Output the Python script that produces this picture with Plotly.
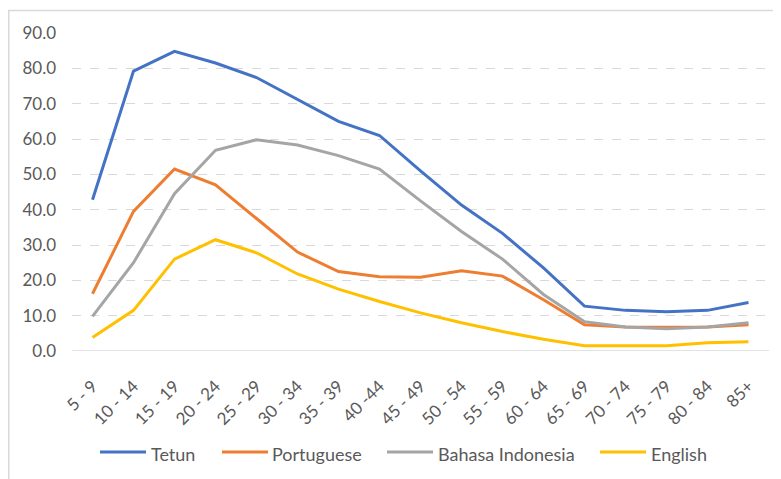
import plotly.graph_objects as go

categories = ["5 - 9", "10 - 14", "15 - 19", "20 - 24", "25 - 29", "30 - 34", "35 - 39", "40 -44",
              "45 - 49", "50 - 54", "55 - 59", "60 - 64", "65 - 69", "70 - 74", "75 - 79", "80 - 84", "85+"]
tetun = [42.8, 79.2, 84.8, 81.5, 77.4, 71.3, 65.0, 61.0, 51.0, 41.3, 33.3, 23.5, 12.7, 11.5, 11.1, 11.5, 13.7]
portuguese = [16.2, 39.5, 51.5, 47.0, 37.5, 28.0, 22.5, 21.0, 20.9, 22.7, 21.2, 14.5, 7.4, 6.8, 6.7, 6.8, 7.4]
bahasa = [9.8, 25.0, 44.5, 56.8, 59.8, 58.3, 55.3, 51.5, 42.5, 33.8, 26.0, 16.0, 8.3, 6.8, 6.3, 6.8, 8.0]
english = [3.8, 11.5, 26.0, 31.5, 27.8, 21.8, 17.5, 14.0, 10.8, 8.0, 5.5, 3.3, 1.5, 1.5, 1.5, 2.3, 2.6]
y_ticks = [0, 10, 20, 30, 40, 50, 60, 70, 80, 90]

series_names = ["Tetun", "Portuguese", "Bahasa Indonesia", "English"]
series_values = [tetun, portuguese, bahasa, english]
series_colors = ["#4472C4", "#ED7D31", "#A5A5A5", "#FFC000"]

# figure geometry (page has an 8px body margin)
W, H = 773, 471
L, R, T, B = 64, 12, 25, 128
PW, PH = W - L - R, H - T - B


def px(fx):
    return (fx - L) / PW


def py(fy):
    return (H - B - fy) / PH


fig = go.Figure()
for name, vals, color in zip(series_names, series_values, series_colors):
    fig.add_trace(go.Scatter(x=categories, y=vals, name=name, mode="lines", showlegend=False,
                             line=dict(color=color, width=3)))

font = "Lato, 'Noto Sans', sans-serif"
text_color = "#595959"

shapes = [
    dict(type="line", xref="paper", yref="y", x0=0, x1=1, y0=0, y1=0,
         line=dict(color="#d9d9d9", width=1.5), layer="below"),
    dict(type="rect", xref="paper", yref="paper", x0=px(0.75), x1=px(W + 20),
         y0=py(H + 20), y1=py(2.5), line=dict(color="#d9d9d9", width=1.5)),
]
annotations = []
legend_line_x = [92, 214, 379, 592]
legend_text_x = [141, 262, 428, 641]
for name, color, lx, tx in zip(series_names, series_colors, legend_line_x, legend_text_x):
    shapes.append(dict(type="line", xref="paper", yref="paper", x0=px(lx), x1=px(lx + 46),
                       y0=py(444), y1=py(444), line=dict(color=color, width=3)))
    annotations.append(dict(text=name, xref="paper", yref="paper", x=px(tx), y=py(446),
                            xanchor="left", yanchor="middle", showarrow=False,
                            font=dict(family=font, size=18, color=text_color)))

fig.update_layout(
    width=W, height=H,
    margin=dict(l=L, r=R, t=T, b=B, autoexpand=False),
    paper_bgcolor="white", plot_bgcolor="white",
    font=dict(family=font, color=text_color, size=16),
    showlegend=False,
    xaxis=dict(type="category", tickangle=-45, showgrid=False, ticks="", automargin=False,
               showline=False, tickfont=dict(size=17, color=text_color), range=[-0.5, 16.5],
               ticklabelstandoff=21),
    yaxis=dict(range=[0, 90], tickvals=y_ticks, ticktext=[f"{v:.1f}" for v in y_ticks],
               showgrid=True, gridcolor="#d9d9d9", griddash="dash", gridwidth=1, automargin=False,
               zeroline=False, showline=False, ticks="", ticklabelstandoff=15,
               tickfont=dict(size=17, color=text_color)),
    shapes=shapes,
    annotations=annotations,
)

fig.write_html("out.html")
